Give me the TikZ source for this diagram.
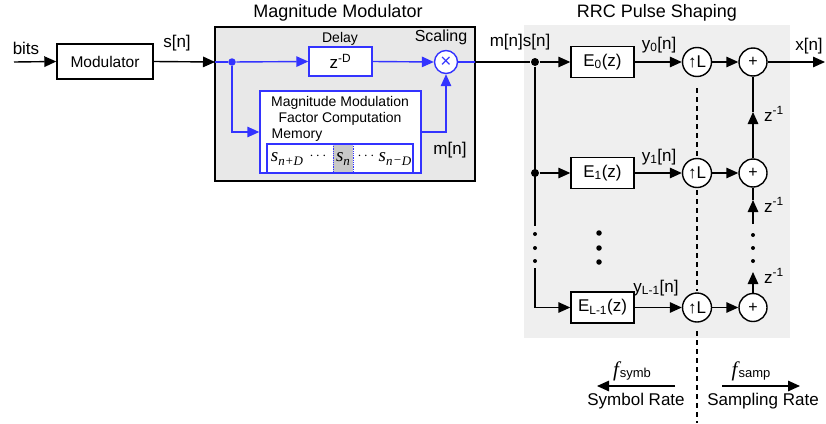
\documentclass[tikz,border=0pt]{standalone}
\usepackage{fontspec}
\setmainfont{Liberation Sans}
\newfontfamily\tms{Liberation Serif}
\usetikzlibrary{arrows.meta}
\definecolor{bl}{RGB}{51,51,255}
\definecolor{mmgray}{RGB}{232,232,232}
\definecolor{rrcgray}{RGB}{239,239,239}
\definecolor{cellgray}{RGB}{200,200,200}
\newcommand\fs[1]{\fontsize{#1}{#1}\selectfont}
\newcommand\sv[1]{{\tms\itshape\fs{19}s}\raisebox{-4pt}{\tms\itshape\fs{13}#1}}
\begin{document}
\begin{tikzpicture}[x=1pt,y=-1pt,line width=1.4pt,
  arr/.style={-{Triangle[length=12pt,width=10.5pt]}},
  box/.style={draw,fill=white,minimum width=63pt,minimum height=31pt,inner sep=0pt,font=\fs{17}},
  circ/.style={draw,fill=white,circle,minimum size=29pt,inner sep=0pt,font=\fs{17}},
  lbl/.style={font=\fs{17},inner sep=0pt},
  jdot/.style={circle,fill,inner sep=0pt,minimum size=8pt},
  sdot/.style={circle,fill,inner sep=0pt,minimum size=4pt},
  mdot/.style={circle,fill,inner sep=0pt,minimum size=5.5pt},
  dsh/.style={line width=1.1pt,dash pattern=on 5pt off 4pt}]
\useasboundingbox (0,0) rectangle (826,423);

% backgrounds
\node[draw,fill=mmgray,minimum width=260pt,minimum height=154pt,inner sep=0pt] (mm) at (345,104) {};
\node[fill=rrcgray,minimum width=266pt,minimum height=313pt,inner sep=0pt] (rrc) at (657,181.5) {};
\node[lbl,font=\fs{18}] (mmt) at (338,13) {Magnitude Modulator};
\node[lbl,font=\fs{18}] (rrct) at (657,13) {RRC Pulse Shaping};

% input part
\coordinate (in) at (14,62);
\node[lbl] (bits) at (26,48) {bits};
\node[box,minimum width=96pt,minimum height=35pt,font=\fs{15.5}] (mod) at (105,61.5) {Modulator};
\node[lbl] (sn) at (177,43) {s[n]};
\coordinate (mmin) at (215,62);
\draw[arr] (in) -- (mod.west);
\draw[arr] (mod.east) -- (mmin);

% magnitude modulator
\node[jdot,fill=bl,minimum size=7.5pt] (bd) at (232,62) {};
\node[box,draw=bl,minimum height=29pt] (del) at (340.5,61.5) {z\textsuperscript{-D}};
\node[lbl,font=\fs{14}] (delt) at (340,39) {Delay};
\node[circ,draw=bl,minimum size=23pt,text=bl,font=\fs{19}] (mul) at (446,62) {×};
\node[lbl,font=\fs{16}] (scal) at (441,37) {Scaling};
\node[draw=bl,fill=white,minimum width=161pt,minimum height=82pt,inner sep=0pt] (mem) at (340.5,132) {};
\node[lbl,font=\fs{14}] (mt1) at (340,103) {Magnitude Modulation};
\node[lbl,font=\fs{14}] (mt2) at (340,119) {Factor Computation};
\node[lbl,font=\fs{14},anchor=west] (mt3) at (271,135) {Memory};
\fill[cellgray] (333,144) rectangle (353,173);
\draw[bl,line width=0.8pt,densely dotted] (333,144) -- (333,173) (353,144) -- (353,173);
\node[draw=bl,minimum width=146pt,minimum height=29pt,inner sep=0pt] (cells) at (340,158.5) {};
\node[inner sep=0pt] (c1) at (287,159) {\sv{n+D}};
\node[inner sep=0pt,font=\fs{15}] (c2) at (318,156) {$\cdots$};
\node[inner sep=0pt] (c3) at (343,159) {\sv{n}};
\node[inner sep=0pt,font=\fs{15}] (c4) at (366,156) {$\cdots$};
\node[inner sep=0pt] (c5) at (395,159) {\sv{n\kern0.5pt\raisebox{0.5pt}{−}D}};
\coordinate (mmout) at (475,62);
\draw[bl] (mmin) -- (bd);
\draw[bl,arr] (bd) -- (del.west);
\draw[bl,arr] (del.east) -- (mul.west);
\draw[bl,arr] (bd) |- (mem.west);
\draw[bl,arr] (mem.east) -| (mul.south);
\draw[bl] (mul.east) -- (mmout);
\node[lbl] (mn) at (450,150) {m[n]};

% RRC pulse shaping
\node[lbl] (msn) at (520,42) {m[n]s[n]};
\node[jdot] (d0) at (535,62) {};
\node[jdot] (d1) at (535,173) {};
\draw (mmout) -- (d0);
\node[box] (e0) at (602.5,62) {E\textsubscript{0}(z)};
\node[box] (e1) at (602.5,173) {E\textsubscript{1}(z)};
\node[box] (e2) at (602.5,307.5) {E\textsubscript{L-1}(z)};
\node[circ] (u0) at (697,62) {↑L};
\node[circ] (u1) at (697,173) {↑L};
\node[circ] (u2) at (697,307.5) {↑L};
\node[circ,minimum size=28pt,font=\fs{16}] (a0) at (753,62) {+};
\node[circ,minimum size=28pt,font=\fs{16}] (a1) at (753,173) {+};
\node[circ,minimum size=28pt,font=\fs{16}] (a2) at (753,307.5) {+};
\draw[arr] (d0) -- (e0.west);
\draw[arr] (d1) -- (e1.west);
\coordinate (vb) at (535,226);
\coordinate (vc) at (535,268);
\draw (d0) -- (vb);
\node[sdot] (vd1) at (535,234) {};
\node[sdot] (vd2) at (535,248) {};
\node[sdot] (vd3) at (535,261) {};
\draw[arr] (vc) |- (e2.west);
\foreach \i in {0,1,2}{
  \draw[arr] (e\i.east) -- (u\i.west);
  \draw[arr] (u\i.east) -- (a\i.west);
}
\node[lbl] (y0) at (659,45) {y\textsubscript{0}[n]};
\node[lbl] (y1) at (659,157) {y\textsubscript{1}[n]};
\node[lbl] (y2) at (656,288) {y\textsubscript{L-1}[n]};
\node[mdot] (md1) at (599,233) {};
\node[mdot] (md2) at (599,248) {};
\node[mdot] (md3) at (599,262) {};
\coordinate (xout) at (825,62);
\draw[arr] (a0.east) -- (xout);
\node[lbl] (xn) at (809,46) {x[n]};
% adder chain
\coordinate (t01) at (753,112);
\draw[arr] (a1.north) -- (t01);
\draw (t01) -- (a0.south);
\coordinate (t12) at (753,200);
\coordinate (b12) at (753,224);
\draw[arr] (b12) -- (t12);
\draw (t12) -- (a1.south);
\node[sdot] (ad1) at (753,235) {};
\node[sdot] (ad2) at (753,248) {};
\node[sdot] (ad3) at (753,261) {};
\coordinate (t23) at (753,272);
\draw[arr] (a2.north) -- (t23);
\node[lbl] (z1) at (774,114) {z\textsuperscript{-1}};
\node[lbl] (z2) at (774,205) {z\textsuperscript{-1}};
\node[lbl] (z3) at (774,276) {z\textsuperscript{-1}};
% dashed rate boundary
\coordinate (q1) at (697,88);
\coordinate (q2) at (697,158);
\coordinate (q3) at (697,190);
\coordinate (q4) at (697,291);
\coordinate (q5) at (697,331);
\coordinate (q6) at (697,423);
\draw[dsh] (q1) -- (q2) (q3) -- (q4) (q5) -- (q6);
% rates
\coordinate (sa) at (675,386);
\coordinate (sb) at (597,386);
\coordinate (pa) at (722,386);
\coordinate (pb) at (800,386);
\draw[arr] (sa) -- (sb);
\draw[arr] (pa) -- (pb);
\node[lbl] (fs) at (632,371) {{\tms\itshape\fs{21}f}\kern1pt\raisebox{-1pt}{\fs{13}symb}};
\node[lbl] (fp) at (751,371) {{\tms\itshape\fs{21}f}\kern1pt\raisebox{-1pt}{\fs{13}samp}};
\node[lbl] (sr) at (636,401) {Symbol Rate};
\node[lbl] (spr) at (763,401) {Sampling Rate};
\end{tikzpicture}
\end{document}
